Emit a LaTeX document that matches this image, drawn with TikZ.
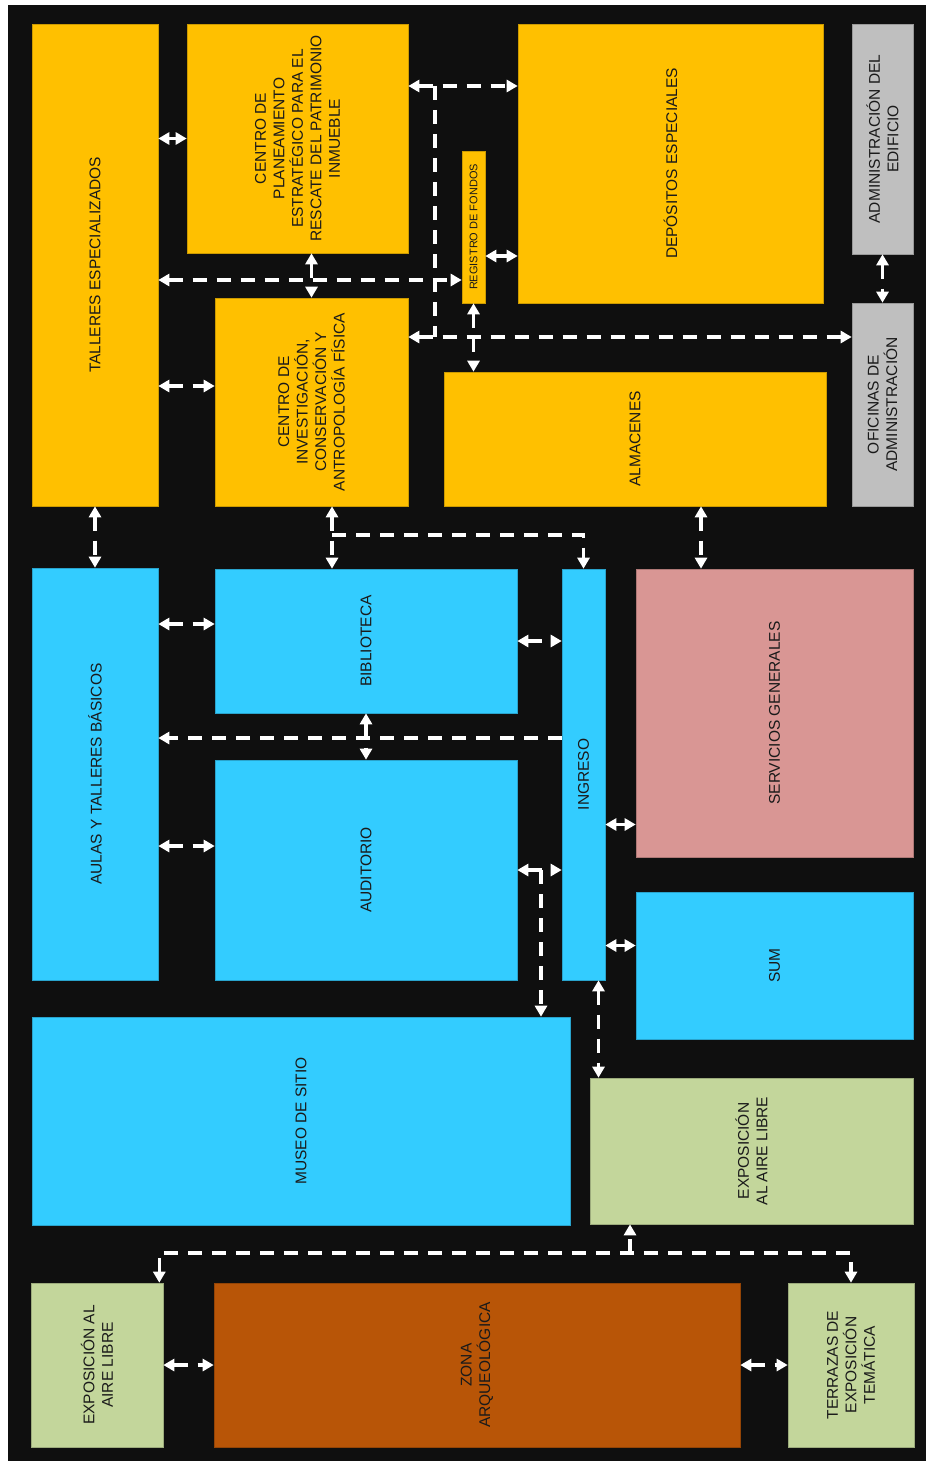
\documentclass[tikz,border=0pt]{standalone}
\usepackage{fontspec}
\setmainfont{Liberation Sans}
\usetikzlibrary{arrows.meta}

\definecolor{fondo}{HTML}{0F0F0F}
\definecolor{naranja}{HTML}{FFC000}
\definecolor{gris}{HTML}{BFBFBF}
\definecolor{celeste}{HTML}{33CCFF}
\definecolor{rosa}{HTML}{D99694}
\definecolor{verde}{HTML}{C3D69B}
\definecolor{ladrillo}{HTML}{B85507}
\definecolor{letra}{HTML}{1A1A1A}

\begin{document}
\begin{tikzpicture}[x=1pt,y=-1pt,>={Triangle[length=11pt,width=12pt]},
  area/.style={draw=#1!80!black,fill=#1,line width=0.6pt,inner sep=0pt},
  tam/.style 2 args={minimum width=#1pt,minimum height=#2pt},
  txt/.style={rotate=90,align=center,text=letra,font=\fontsize{15.5}{18.5}\selectfont},
  flujo/.style={draw=white,line width=3.5pt,dash pattern=on 14pt off 10pt}]
\fill[white] (0,0) rectangle (926,1461);
\fill[fondo] (8,5) rectangle (926,1461);
\useasboundingbox (0,0) rectangle (926,1461);

\node[area=naranja,tam={126}{482}] (talleres) at (95,265) {};
\node[area=naranja,tam={221}{229}] (planeamiento) at (297.5,138.5) {};
\node[area=naranja,tam={193}{208}] (investigacion) at (311.5,402) {};
\node[area=naranja,tam={23}{152}] (registro) at (473.5,227) {};
\node[area=naranja,tam={305}{279}] (depositos) at (670.5,163.5) {};
\node[area=naranja,tam={382}{134}] (almacenes) at (635,439) {};
\node[area=gris,tam={61}{230}] (administracion) at (882.5,139) {};
\node[area=gris,tam={61}{203}] (oficinas) at (882.5,404.5) {};
\node[area=celeste,tam={126}{412}] (aulas) at (95,774) {};
\node[area=celeste,tam={302}{144}] (biblioteca) at (366,641) {};
\node[area=celeste,tam={43}{411}] (ingreso) at (583.5,774.5) {};
\node[area=celeste,tam={302}{220}] (auditorio) at (366,870) {};
\node[area=rosa,tam={277}{288}] (servicios) at (774.5,713) {};
\node[area=celeste,tam={277}{147}] (sum) at (774.5,965.5) {};
\node[area=celeste,tam={538}{208}] (museo) at (301,1121) {};
\node[area=verde,tam={323}{146}] (expoder) at (751.5,1151) {};
\node[area=verde,tam={132}{164}] (expoizq) at (97,1365) {};
\node[area=ladrillo,tam={526}{164}] (arqueologica) at (477,1365) {};
\node[area=verde,tam={126}{164}] (terrazas) at (851,1365) {};

\node[txt] (talleres-t) at (talleres) {TALLERES ESPECIALIZADOS};
\node[txt] (planeamiento-t) at (planeamiento) {CENTRO DE\\PLANEAMIENTO\\ESTRATÉGICO PARA EL\\RESCATE DEL PATRIMONIO\\INMUEBLE};
\node[txt] (investigacion-t) at (investigacion) {CENTRO DE\\INVESTIGACIÓN,\\CONSERVACIÓN Y\\ANTROPOLOGÍA FÍSICA};
\node[txt,font=\fontsize{11}{13}\selectfont] (registro-t) at (registro) {REGISTRO DE FONDOS};
\node[txt] (depositos-t) at (depositos) {DEPÓSITOS ESPECIALES};
\node[txt] (almacenes-t) at (almacenes) {ALMACENES};
\node[txt] (administracion-t) at (administracion) {ADMINISTRACIÓN DEL\\EDIFICIO};
\node[txt] (oficinas-t) at (oficinas) {OFICINAS DE\\ADMINISTRACIÓN};
\node[txt] (aulas-t) at (aulas) {AULAS Y TALLERES BÁSICOS};
\node[txt] (biblioteca-t) at (biblioteca) {BIBLIOTECA};
\node[txt] (ingreso-t) at (ingreso) {INGRESO};
\node[txt] (auditorio-t) at (auditorio) {AUDITORIO};
\node[txt] (servicios-t) at (servicios) {SERVICIOS GENERALES};
\node[txt] (sum-t) at (sum) {SUM};
\node[txt] (museo-t) at (museo) {MUSEO DE SITIO};
\node[txt] (expoder-t) at (expoder) {EXPOSICIÓN\\AL AIRE LIBRE};
\node[txt] (expoizq-t) at (expoizq) {EXPOSICIÓN AL\\AIRE LIBRE};
\node[txt] (arqueologica-t) at (arqueologica) {ZONA\\ARQUEOLÓGICA};
\node[txt] (terrazas-t) at (terrazas) {TERRAZAS DE\\EXPOSICIÓN\\TEMÁTICA};

\coordinate (p1) at (435,86);
\coordinate (p2) at (435,280);
\coordinate (p3) at (435,337);
\coordinate (p4) at (332,535);
\coordinate (p5) at (366,738);
\coordinate (p6) at (541,870);
\coordinate (p7) at (630,1253);

\draw[flujo,<->] (talleres.east |- planeamiento.west) -- (planeamiento.west);
\draw[flujo,<->] (planeamiento.east |- p1) -- (depositos.west |- p1);
\draw[flujo] (p1) -- (p3);
\draw[flujo,<->] (talleres.east |- p2) -- (registro.west |- p2);
\draw[flujo,<->] (investigacion.north |- planeamiento.south) -- (investigacion.north);
\draw[flujo,<->] ([yshift=-29pt]registro.east) -- ([yshift=-29pt]registro.east -| depositos.west);
\draw[flujo,<->] (investigacion.east |- p3) -- (oficinas.west |- p3);
\draw[flujo,<->] (registro.south) -- (registro.south |- almacenes.north);
\draw[flujo,<->] (administracion.south) -- (oficinas.north);
\draw[flujo,<->] ([yshift=16pt]investigacion.west -| talleres.east) -- ([yshift=16pt]investigacion.west);
\draw[flujo,<->] (talleres.south) -- (aulas.north);
\draw[flujo,<->] (investigacion.south -| p4) -- (biblioteca.north -| p4);
\draw[flujo,->] (p4) -- (p4 -| ingreso.north) -- (ingreso.north);
\draw[flujo,<->] ([xshift=66pt]almacenes.south) -- ([xshift=66pt]almacenes.south |- servicios.north);
\draw[flujo,<->] ([yshift=17pt]biblioteca.west -| aulas.east) -- ([yshift=17pt]biblioteca.west);
\draw[flujo,<->] (biblioteca.east) -- (biblioteca.east -| ingreso.west);
\draw[flujo,->] (ingreso.west |- p5) -- (aulas.east |- p5);
\draw[flujo,<->] (biblioteca.south) -- (auditorio.north);
\draw[flujo,<->] ([yshift=24pt]auditorio.west -| aulas.east) -- ([yshift=24pt]auditorio.west);
\draw[flujo,<->] ([yshift=-50pt]ingreso.east) -- ([yshift=-50pt]ingreso.east -| servicios.west);
\draw[flujo,<->] (auditorio.east) -- (auditorio.east -| ingreso.west);
\draw[flujo,->] (p6) -- (p6 |- museo.north);
\draw[flujo,<->] ([yshift=20pt]sum.west -| ingreso.east) -- ([yshift=20pt]sum.west);
\draw[flujo,<->] ([xshift=15pt]ingreso.south) -- ([xshift=15pt]ingreso.south |- expoder.north);
\draw[flujo,->] (p7) -- (p7 |- expoder.south);
\draw[flujo,<->] ([xshift=-4pt]expoizq.north east) -- ([xshift=-4pt]expoizq.north east |- p7) -- (terrazas.north |- p7) -- (terrazas.north);
\draw[flujo,<->] (expoizq.east) -- (arqueologica.west);
\draw[flujo,<->] (arqueologica.east) -- (terrazas.west);
\end{tikzpicture}
\end{document}
